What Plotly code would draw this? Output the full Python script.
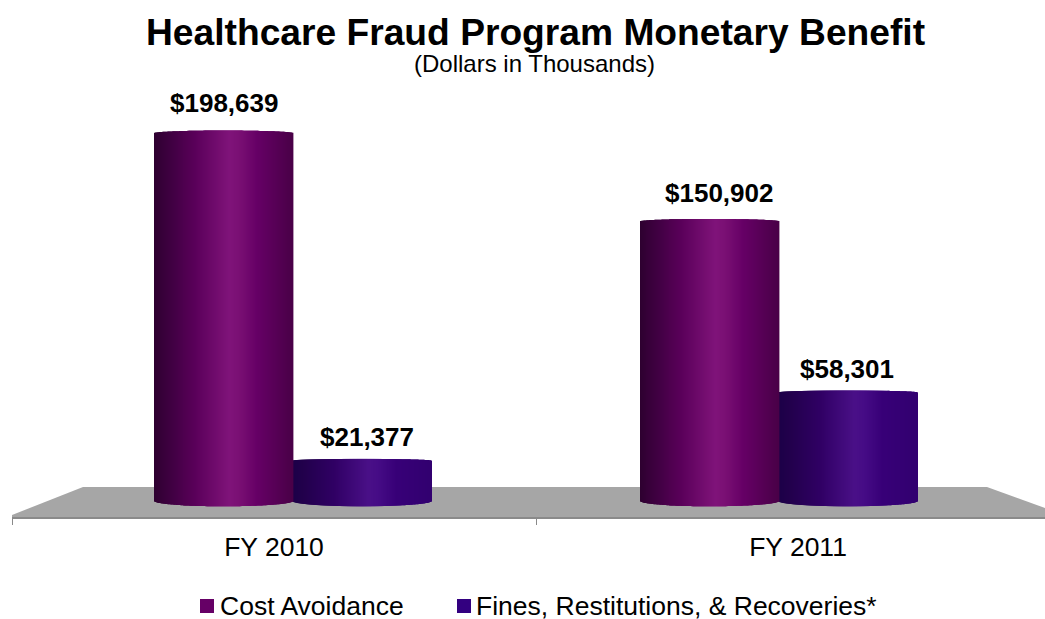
import numpy as np
import plotly.graph_objects as go

# data (dollars in thousands)
CATEGORIES = ["FY 2010", "FY 2011"]
COST_AVOIDANCE = [198639, 150902]
FINES = [21377, 58301]
SERIES_NAMES = ["Cost Avoidance", "Fines, Restitutions, & Recoveries*"]

WIDTH, HEIGHT = 1045, 619
LEFT = 12          # plot area left edge, px
PLOT_TOP, PLOT_BOTTOM = 90, 517
ZERO_PX = 499.3    # pixel row of value 0
PX_PER_UNIT = 0.00185
CAT_PX = 524       # pixels per category

FONT = "Liberation Sans, Arial, sans-serif"

# shading across a cylinder, left to right
STOPS = [0, 0.08, 0.3, 0.55, 0.62, 0.75, 1]
COST_SHADE = [(46, 0, 48), (58, 0, 60), (90, 0, 90), (128, 20, 122), (122, 16, 116), (102, 0, 102), (74, 0, 72)]
FINES_SHADE = [(28, 0, 72), (34, 0, 76), (48, 0, 100), (74, 16, 136), (70, 12, 134), (56, 0, 120), (50, 0, 112)]
COST_SWATCH = "#660066"
FINES_SWATCH = "#330080"


def shade(stops, t):
    c = np.array(stops)
    return "rgb(%d,%d,%d)" % tuple(np.interp(t, STOPS, c[:, i]) for i in range(3))


def px_to_x(px):
    return (px - LEFT) / CAT_PX - 0.5


def px_to_y(py):
    return (ZERO_PX - py) / PX_PER_UNIT


def paper_x(px):
    return (px - LEFT) / (WIDTH - LEFT)


def paper_y(py):
    return (PLOT_BOTTOM - py) / (PLOT_BOTTOM - PLOT_TOP)


def cylinder(cat_idx, value, x_shift, width, colors, name, n=139):
    # one cylinder is a row of thin bars, curved top and bottom
    t = (np.arange(n) + 0.5) / n
    arc = np.sqrt(1 - (2 * t - 1) ** 2)
    xs = cat_idx + x_shift + (t - 0.5) * width
    top_h = 0.8 + 0.5 * value / max(COST_AVOIDANCE)   # taller bars show a rounder top
    top = value + (2 * arc - 1) * top_h / PX_PER_UNIT
    base = -(1.7 + arc * 5.3) / PX_PER_UNIT
    return go.Bar(
        x=xs, y=top - base, base=base, width=width / n * 1.8, name=name,
        marker=dict(color=[shade(colors, v) for v in t], line_width=0),
        showlegend=False, hoverinfo="skip",
    )


fig = go.Figure()

bar_w = 138.5 / CAT_PX
shifts = [19 / CAT_PX, -19 / CAT_PX]   # perspective pushes the groups inward

for i in range(len(CATEGORIES)):
    fig.add_trace(cylinder(i, FINES[i], shifts[i] + bar_w / 2, bar_w, FINES_SHADE, SERIES_NAMES[1]))
for i in range(len(CATEGORIES)):
    fig.add_trace(cylinder(i, COST_AVOIDANCE[i], shifts[i] - bar_w / 2, bar_w, COST_SHADE, SERIES_NAMES[0]))

# value labels
label_px = [[224, 719], [367, 847]]
label_lift = [[12, 10], [6, 5]]
for s, vals in enumerate([COST_AVOIDANCE, FINES]):
    for i, v in enumerate(vals):
        fig.add_annotation(x=px_to_x(label_px[s][i]), y=v, yshift=label_lift[s][i],
                           text="<b>$%s</b>" % format(v, ","), showarrow=False,
                           yanchor="bottom", font=dict(size=26, color="black", family=FONT))

# grey floor of the 3D chart
floor = "M %f %f L %f %f L %f %f L %f %f L %f %f L %f %f Z" % (
    paper_x(12), paper_y(515), paper_x(83), paper_y(487), paper_x(987), paper_y(487),
    paper_x(1045), paper_y(508), paper_x(1045), paper_y(517), paper_x(12), paper_y(517))
fig.add_shape(type="path", path=floor, xref="paper", yref="paper", layer="below",
              fillcolor="#a6a6a6", line_width=0)

fig.add_annotation(x=paper_x(535), y=paper_y(32), xref="paper", yref="paper", showarrow=False,
                   xanchor="center", yanchor="middle",
                   text="<b>Healthcare Fraud Program Monetary Benefit</b>",
                   font=dict(size=37.2, color="black", family=FONT))
fig.add_annotation(x=paper_x(534), y=paper_y(64), xref="paper", yref="paper", showarrow=False,
                   xanchor="center", yanchor="middle",
                   text="(Dollars in Thousands)",
                   font=dict(size=24, color="black", family=FONT))

# legend by hand: plotly's own keeps too wide a gap between swatch and text
for name, color, swatch_px, text_px in zip(SERIES_NAMES, [COST_SWATCH, FINES_SWATCH], [200, 457], [218, 474]):
    fig.add_shape(type="rect", xref="paper", yref="paper", line_width=0, fillcolor=color,
                  x0=paper_x(swatch_px), x1=paper_x(swatch_px + 14), y0=paper_y(599), y1=paper_y(613))
    fig.add_annotation(x=paper_x(text_px), y=paper_y(606), xref="paper", yref="paper", showarrow=False,
                       xanchor="left", yanchor="middle", text=name,
                       font=dict(size=26.5, color="black", family=FONT))

fig.update_layout(
    width=WIDTH, height=HEIGHT,
    margin=dict(l=LEFT, r=0, t=PLOT_TOP, b=HEIGHT - PLOT_BOTTOM, pad=0),
    paper_bgcolor="white", plot_bgcolor="white",
    barmode="overlay",
    font=dict(family=FONT, color="black"),
    showlegend=False,
    xaxis=dict(
        range=[px_to_x(LEFT), px_to_x(WIDTH)],
        tickvals=[0, 1], ticktext=CATEGORIES, ticks="", showgrid=False, zeroline=False,
        tickfont=dict(size=26.5), ticklabelstandoff=5,
        showline=True, linecolor="#8a8a8a", linewidth=2,
        minor=dict(tickvals=[-0.5, 0.5], ticks="outside", ticklen=6, tickcolor="#8a8a8a", tickwidth=1, showgrid=False),
    ),
    yaxis=dict(range=[px_to_y(PLOT_BOTTOM), px_to_y(PLOT_TOP)], visible=False),
)

fig.write_html("out.html", config=dict(displayModeBar=False),
               post_script="document.body.style.margin='0';")
